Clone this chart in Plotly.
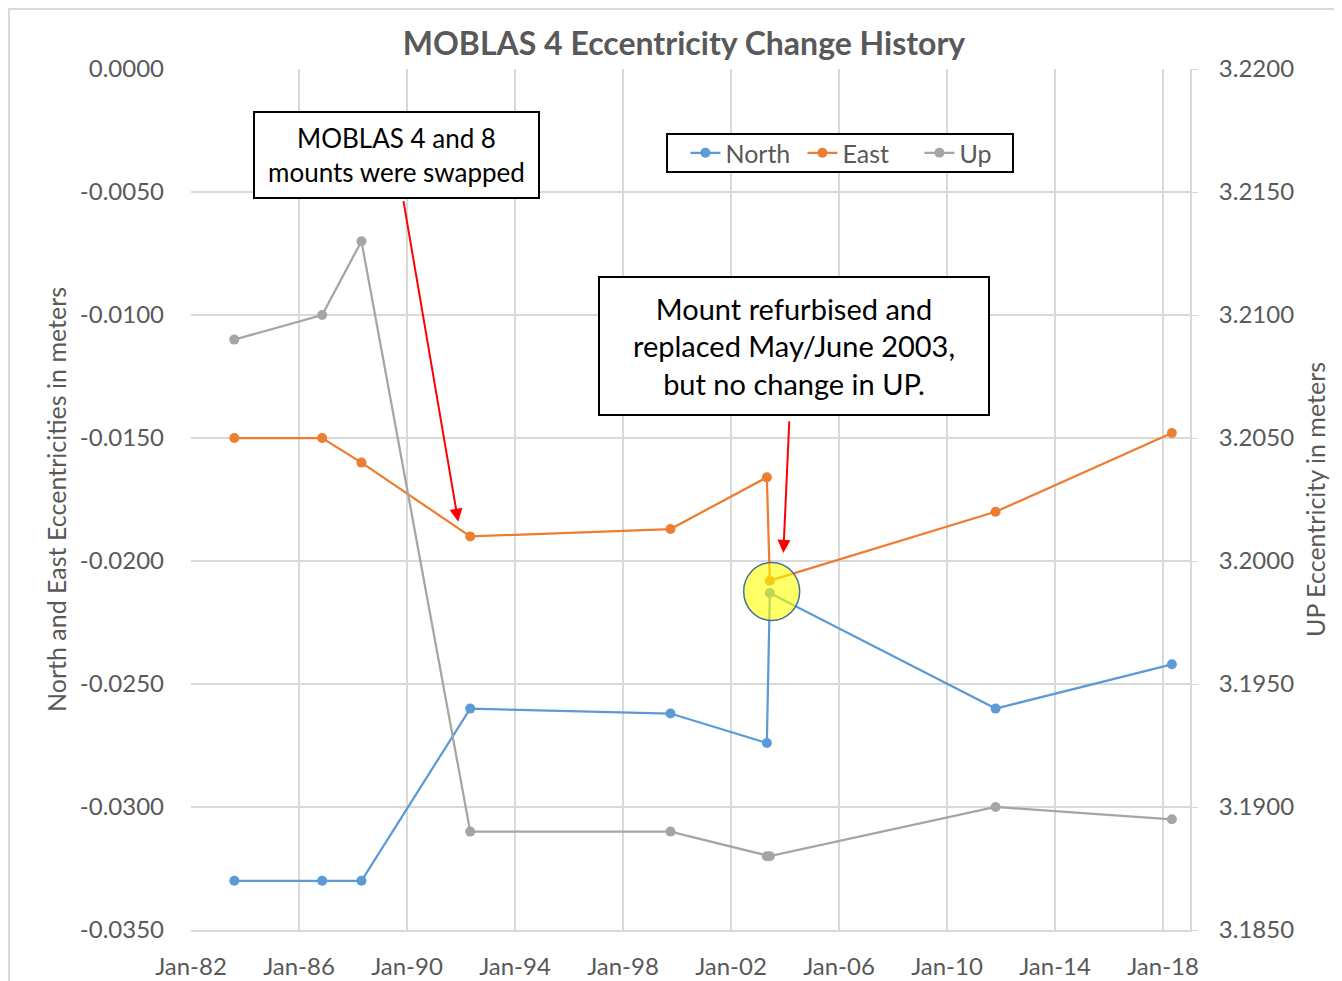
import plotly.graph_objects as go

# survey dates
DATES = ['1983-08-10', '1986-11-10', '1988-04-25', '1992-05-05', '1999-10-05',
         '2003-05-01', '2003-06-10', '2011-10-20', '2018-05-01']
NORTH = [-0.0330, -0.0330, -0.0330, -0.0260, -0.0262, -0.0274, -0.0213, -0.0260, -0.0242]
EAST = [-0.0150, -0.0150, -0.0160, -0.0190, -0.0187, -0.0166, -0.0208, -0.0180, -0.0148]
UP = [3.2090, 3.2100, 3.2130, 3.1890, 3.1890, 3.1880, 3.1880, 3.1900, 3.1895]

LEFT_TICKS = [0.0, -0.005, -0.010, -0.015, -0.020, -0.025, -0.030, -0.035]
LEFT_LABELS = ['0.0000', '-0.0050', '-0.0100', '-0.0150', '-0.0200', '-0.0250', '-0.0300', '-0.0350']

FONT = 'Lato'
TXT_GRAY = '#595959'
GRID = '#D9D9D9'
COLORS = {'North': '#5B9BD5', 'East': '#ED7D31', 'Up': '#A5A5A5'}

fig = go.Figure()
for name, vals, axis in [('North', NORTH, 'y'), ('East', EAST, 'y'), ('Up', UP, 'y2')]:
    fig.add_trace(go.Scatter(
        x=DATES, y=vals, name=name, yaxis=axis, mode='lines+markers',
        line=dict(color=COLORS[name], width=2.25),
        marker=dict(color=COLORS[name], size=10)
    ))

# page has an 8px body margin, so the figure is 8px smaller and shifted
fig.update_layout(
    width=1334,
    height=973,
    autosize=False,
    margin=dict(l=183, r=152, t=61, b=51, autoexpand=False),
    paper_bgcolor='white',
    plot_bgcolor='white',
    font=dict(family=FONT, color=TXT_GRAY, size=24),
    title=dict(text='<b>MOBLAS 4 Eccentricity Change History</b>', font=dict(size=32, color=TXT_GRAY),
               xref='paper', x=0.4935, xanchor='center', yref='container', y=0.963, yanchor='middle'),
    legend=dict(orientation='h', x=0.6706, xanchor='center', y=0.9024, yanchor='middle',
                bgcolor='rgba(0,0,0,0)', borderwidth=0, entrywidth=72,
                font=dict(size=25, color=TXT_GRAY)),
    xaxis=dict(type='date', range=['1982-01-01', '2019-01-01'], tick0='1982-01-01', dtick='M48',
               tickformat='%b-%y', showgrid=True, gridcolor=GRID, gridwidth=1.5,
               showline=True, linecolor=GRID, linewidth=2, zeroline=False, automargin=False,
               ticklabelstandoff=14, tickfont=dict(size=24)),
    yaxis=dict(range=[-0.035, 0], tickvals=LEFT_TICKS, ticktext=LEFT_LABELS,
               showgrid=True, gridcolor=GRID, gridwidth=1.5, zeroline=False, showline=False,
               automargin=False, ticklabelstandoff=26, tickfont=dict(size=24),
               title=dict(text='North and East Eccentricities in meters', font=dict(size=25), standoff=6)),
    yaxis2=dict(overlaying='y', side='right', range=[3.185, 3.22], dtick=0.005, tickformat='.4f',
                showgrid=False, zeroline=False, showline=True, linecolor=GRID, linewidth=2,
                ticks='outside', ticklen=6, tickcolor=GRID, ticklabelstandoff=16, tickfont=dict(size=24),
                automargin=False,
                title=dict(text='UP Eccentricity in meters', font=dict(size=25), standoff=14)),
)

# legend frame (white, drawn over the grid; legend sits on top)
fig.add_shape(type='rect', xref='paper', yref='paper', x0=0.4765, x1=0.8228, y0=0.8804, y1=0.9245,
              line=dict(color='black', width=2), fillcolor='white', layer='above')

# callout boxes
fig.add_annotation(xref='paper', yref='paper', x=0.2057, y=0.9001, xanchor='center', yanchor='middle',
                   showarrow=False, text='MOBLAS 4 and 8<br>mounts were swapped',
                   font=dict(size=26, color='black'), align='center',
                   width=281, height=82, bgcolor='white', bordercolor='black', borderwidth=2, borderpad=1)
fig.add_annotation(xref='paper', yref='paper', x=0.6036, y=0.6783, xanchor='center', yanchor='middle',
                   showarrow=False, text='Mount refurbised and<br>replaced May/June 2003,<br>but no change in UP.',
                   font=dict(size=29, color='black'), align='center',
                   width=386, height=134, bgcolor='white', bordercolor='black', borderwidth=2, borderpad=1)

# red arrows
fig.add_annotation(x='1991-11-25', y=-0.0184, ax=-55, ay=-322, text='', showarrow=True,
                   arrowhead=2, arrowsize=1.3, arrowwidth=2, arrowcolor='red')
fig.add_annotation(x='2003-12-10', y=-0.01967, ax=6, ay=-133, text='', showarrow=True,
                   arrowhead=2, arrowsize=1.3, arrowwidth=2, arrowcolor='red')

# highlight circle around the 2003 change
fig.add_shape(type='circle', xref='x', yref='y', xsizemode='pixel', ysizemode='pixel',
              xanchor='2003-07-05', yanchor=-0.02124, x0=-28, x1=28, y0=-29, y1=29,
              fillcolor='rgba(255,255,0,0.6)', line=dict(color='#41719C', width=1.5), layer='above')

# chart border (left and top edges)
fig.add_shape(type='rect', xref='paper', yref='paper', x0=-0.1822, x1=1.2, y0=-0.2, y1=1.0697,
              line=dict(color=GRID, width=2), layer='below')

fig.write_html('out.html')
